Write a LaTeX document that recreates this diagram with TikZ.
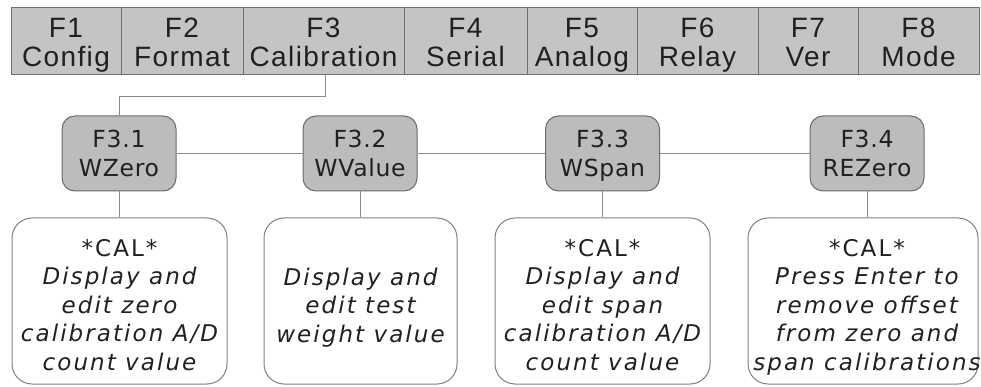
\documentclass[tikz,border=0pt]{standalone}
\usepackage{fontspec}
\newfontfamily\barfont[LetterSpace=5]{Liberation Sans}
\newfontfamily\dvfont[LetterSpace=3]{DejaVu Sans}
\newfontfamily\dvitfont[LetterSpace=9]{DejaVu Sans Oblique}
\newfontfamily\dvupfont[LetterSpace=9]{DejaVu Sans}
\definecolor{barfill}{HTML}{C4C4C4}
\definecolor{barline}{HTML}{707070}
\definecolor{subfill}{HTML}{BCBCBC}
\definecolor{subline}{HTML}{6A6A6A}
\definecolor{boxline}{HTML}{808080}
\definecolor{conn}{HTML}{8A8A8A}
\definecolor{txt}{HTML}{202020}
\newcommand{\toph}[1]{\rule{0pt}{#1}}
\newcommand{\botd}[1]{\rule[-#1]{0pt}{#1}}
\begin{document}
\begin{tikzpicture}[x=1pt,y=-1pt,
  cell/.style={draw=barline,fill=barfill,line width=1pt,minimum height=67pt,inner sep=0pt,
    font=\barfont\fontsize{28}{29}\selectfont,align=center,text=txt},
  sub/.style={draw=subline,fill=subfill,line width=1pt,rounded corners=13pt,minimum width=114pt,
    minimum height=75pt,inner sep=0pt,font=\dvfont\fontsize{23.5}{29}\selectfont,align=center,text=txt},
  desc/.style={draw=boxline,fill=white,line width=1pt,rounded corners=20pt,inner sep=0pt},
  desctext/.style={font=\dvitfont\fontsize{23}{28.5}\selectfont,align=center,text=txt,anchor=north,inner sep=0pt},
  conn/.style={draw=conn,line width=1pt}]
\useasboundingbox (0,0) rectangle (981,387);
% top bar
\node[cell,minimum width=110pt] (f1) at (66,41.5) {\toph{28.4pt}F1\\Config\botd{7pt}};
\node[cell,minimum width=122pt] (f2) at (182,41.5) {\toph{28.4pt}F2\\Format\botd{7pt}};
\node[cell,minimum width=161pt] (f3) at (323.5,41.5) {\toph{28.4pt}F3\\Calibration\botd{7pt}};
\node[cell,minimum width=123pt] (f4) at (465.5,41.5) {\toph{28.4pt}F4\\Serial\botd{7pt}};
\node[cell,minimum width=110pt] (f5) at (582,41.5) {\toph{28.4pt}F5\\Analog\botd{7pt}};
\node[cell,minimum width=121pt] (f6) at (697.5,41.5) {\toph{28.4pt}F6\\Relay\botd{7pt}};
\node[cell,minimum width=100pt] (f7) at (808,41.5) {\toph{28.4pt}F7\\Ver\botd{7pt}};
\node[cell,minimum width=121pt] (f8) at (918.5,41.5) {\toph{28.4pt}F8\\Mode\botd{7pt}};
% sub nodes
\node[sub] (s1) at (119,153.5) {\toph{24pt}F3.1\\WZero\botd{6pt}};
\node[sub] (s2) at (360,153.5) {\toph{24pt}F3.2\\WValue\botd{6pt}};
\node[sub] (s3) at (602.5,153.5) {\toph{24pt}F3.3\\WSpan\botd{6pt}};
\node[sub] (s4) at (867,153.5) {\toph{24pt}F3.4\\REZero\botd{6pt}};
% description boxes
\node[desc,minimum width=215pt,minimum height=166pt] (d1) at (119.5,301) {};
\node[desc,minimum width=193pt,minimum height=166pt] (d2) at (360.5,301) {};
\node[desc,minimum width=215pt,minimum height=166pt] (d3) at (602.5,301) {};
\node[desc,minimum width=230pt,minimum height=166pt] (d4) at (863,301) {};
\node[desctext] (t1) at (119.5,238) {\toph{18pt}{\dvupfont *CAL*}\\Display and\\edit zero\\calibration A/D\\count value};
\node[desctext] (t2) at (360.5,267) {\toph{18pt}Display and\\edit test\\weight value};
\node[desctext] (t3) at (602.5,238) {\toph{18pt}{\dvupfont *CAL*}\\Display and\\edit span\\calibration A/D\\count value};
\node[desctext] (t4) at (867,238) {\toph{18pt}{\dvupfont *CAL*}\\Press Enter to\\remove offset\\from zero and\\span calibrations};
% connectors
\coordinate (bend1) at (325,97);
\draw[conn] (f3.south -| bend1) -- (bend1) -| (s1.north);
\draw[conn] (s1.east) -- (s2.west);
\draw[conn] (s2.east) -- (s3.west);
\draw[conn] (s3.east) -- (s4.west);
\draw[conn] (s1.south) -- (d1.north -| s1.south);
\draw[conn] (s2.south) -- (d2.north -| s2.south);
\draw[conn] (s3.south) -- (d3.north -| s3.south);
\draw[conn] (s4.south) -- (d4.north -| s4.south);
\end{tikzpicture}
\end{document}
